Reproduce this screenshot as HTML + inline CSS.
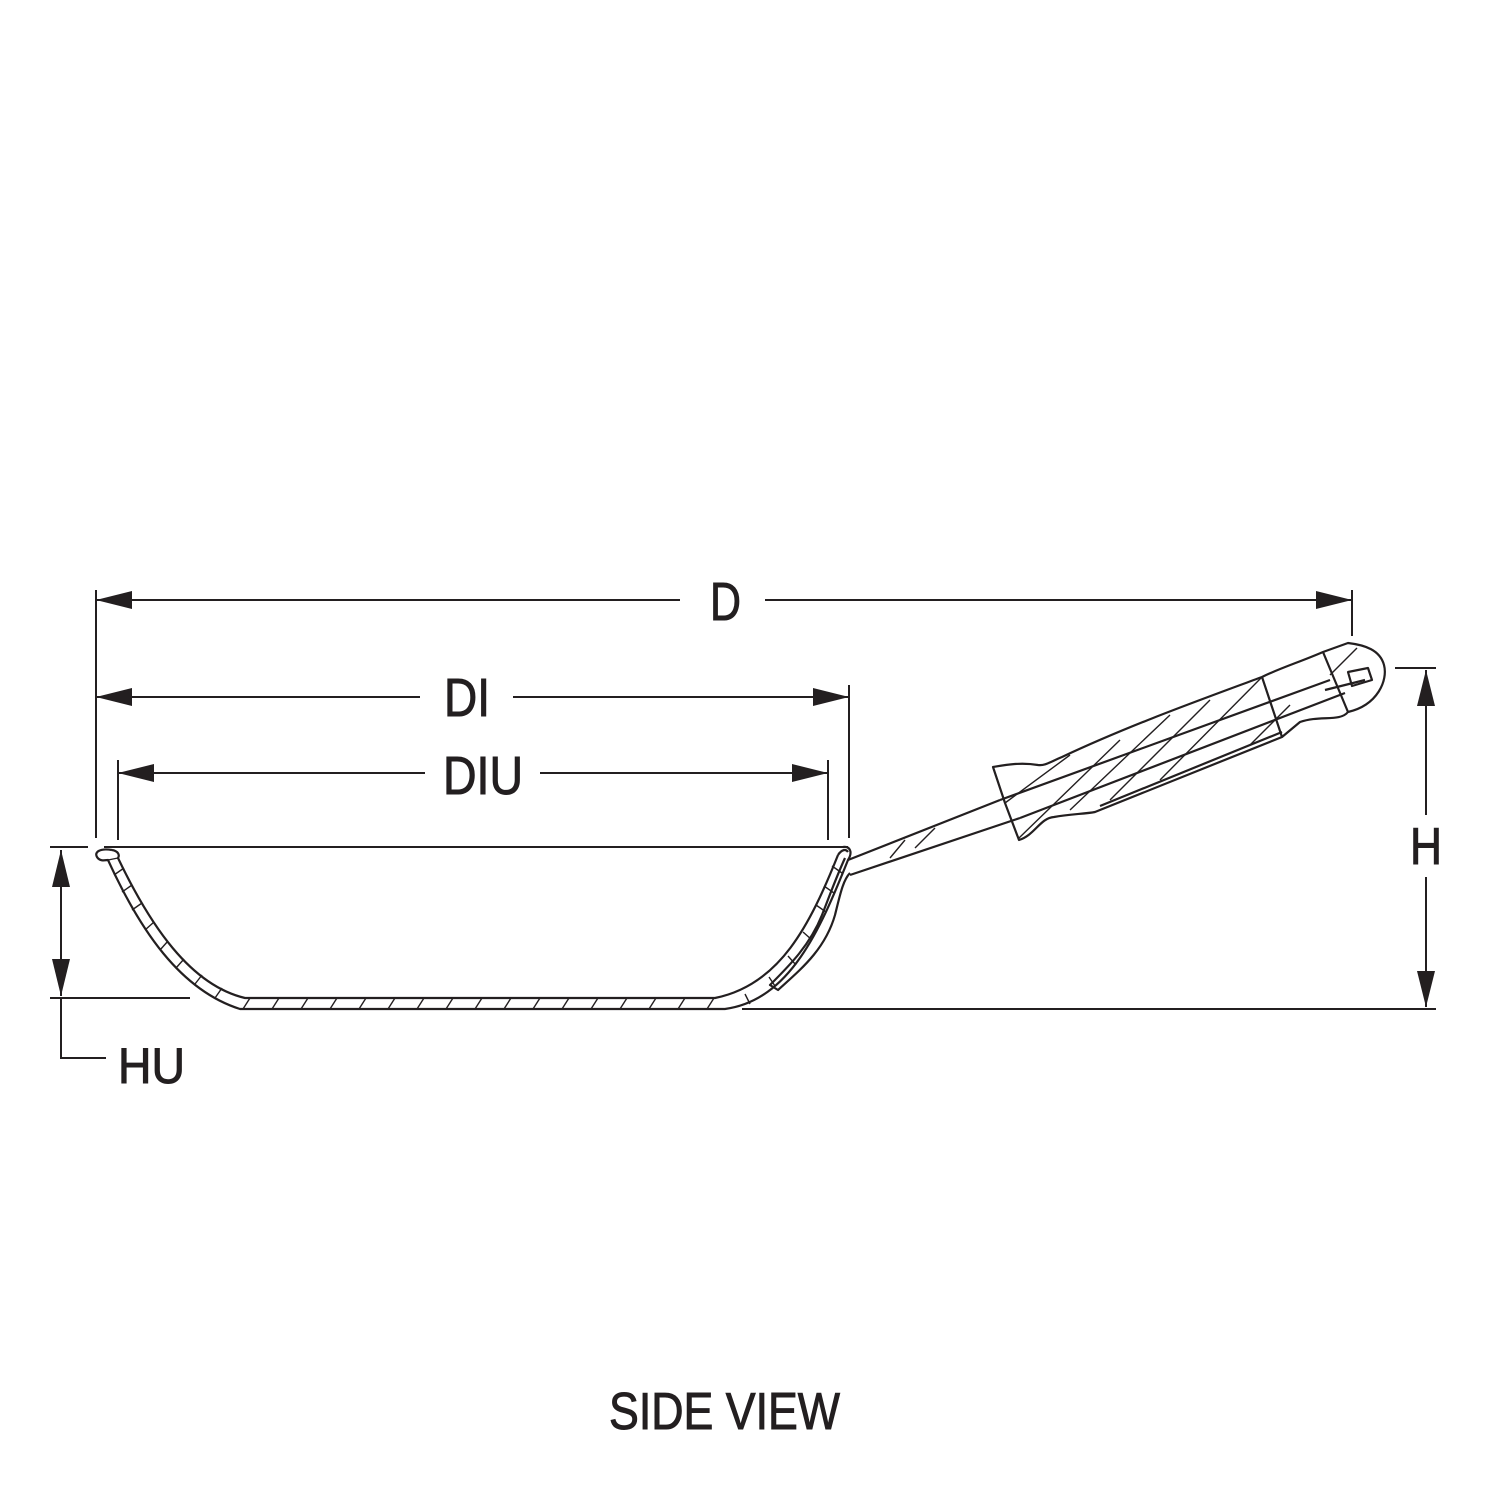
<!DOCTYPE html>
<html><head><meta charset="utf-8"><style>
html,body{margin:0;padding:0;background:#fff}
svg{display:block}
text{font-family:"Liberation Sans Narrow","Liberation Sans",sans-serif;fill:#231f20;stroke:#231f20;stroke-width:1}
</style></head><body>
<svg width="1500" height="1500" viewBox="0 0 1500 1500" xmlns="http://www.w3.org/2000/svg">
<g stroke="#231f20" fill="none" stroke-width="2">
<line x1="96" y1="590" x2="96" y2="838"/>
<line x1="1352" y1="590" x2="1352" y2="636"/>
<line x1="96" y1="600" x2="680" y2="600"/>
<line x1="765" y1="600" x2="1352" y2="600"/>
<line x1="849" y1="685" x2="849" y2="838"/>
<line x1="96" y1="697" x2="420" y2="697"/>
<line x1="513" y1="697" x2="849" y2="697"/>
<line x1="118" y1="760" x2="118" y2="840"/>
<line x1="828" y1="760" x2="828" y2="840"/>
<line x1="118" y1="773" x2="425" y2="773"/>
<line x1="540" y1="773" x2="828" y2="773"/>
<line x1="50" y1="847" x2="88" y2="847"/>
<line x1="50" y1="998" x2="190" y2="998"/>
<line x1="61" y1="850" x2="61" y2="996"/>
<polyline points="61,998 61,1058 106,1058"/>
<line x1="742" y1="1009" x2="1436" y2="1009"/>
<line x1="1395" y1="668" x2="1436" y2="668"/>
<line x1="1426" y1="670" x2="1426" y2="815"/>
<line x1="1426" y1="877" x2="1426" y2="1007"/>
<line x1="104" y1="847" x2="848" y2="847"/>
</g>
<g fill="#231f20">
<polygon points="96,600 132,591 132,609"/>
<polygon points="1352,600 1316,591 1316,609"/>
<polygon points="96,697 132,688 132,706"/>
<polygon points="849,697 813,688 813,706"/>
<polygon points="118,773 154,764 154,782"/>
<polygon points="828,773 792,764 792,782"/>
<polygon points="61,850 52,887 70,887"/>
<polygon points="61,996 52,959 70,959"/>
<polygon points="1426,670 1417,706 1435,706"/>
<polygon points="1426,1007 1417,971 1435,971"/>
</g>
<g stroke="#231f20" fill="none" stroke-width="2.2" stroke-linejoin="round">
<path d="M112,850 C100,848 94,852 97,857 C100,862 106,860 108,860 C140,930 180,990 240,1009 L725,1009 C790,1000 820,930 848,860 C853,852 850,846 843,847"/>
<path d="M112,850 C118,851 120,855 118,858 C150,925 190,985 245,998 L715,998 C780,985 810,925 838,855"/>
<path d="M838,855 C842,849 846,849 848,852"/>
<path d="M845,858 C835,880 828,900 822,915 C810,945 790,965 770,985 L778,990 C800,970 825,950 835,915 C840,895 843,880 850,873"/>
<path d="M848,860 L1000,800"/>
<path d="M850,875 L1020,818"/>
<path d="M1000,800 L1330,680"/>
<path d="M1020,818 L1345,693"/>
<path d="M993,767 L1005,803 L1019,840 C1035,835 1040,818 1054,817 C1070,814 1085,814 1095,812 L1282,737 L1300,722 C1320,715 1340,722 1348,712 C1378,705 1388,680 1384,665 C1380,650 1365,645 1348,643 L1323,652 C1300,662 1280,668 1262,677 C1200,700 1130,725 1062,757 C1050,762 1045,766 1038,765 C1020,762 1005,765 993,767 Z"/>
<path d="M1262,677 L1282,737"/>
<path d="M1323,652 L1348,712"/>
<path d="M1100,806 L1282,732"/>
<path d="M1325,690 L1365,680"/>
<path d="M1348,672 L1368,668 L1372,680 L1352,686 Z"/>
</g>
<g stroke="#231f20" stroke-width="1.4" fill="none">
<line x1="1005" y1="803" x2="1070" y2="755"/>
<line x1="1019" y1="838" x2="1120" y2="740"/>
<line x1="1070" y1="810" x2="1170" y2="715"/>
<line x1="1110" y1="800" x2="1210" y2="700"/>
<line x1="1160" y1="780" x2="1262" y2="677"/>
<line x1="1250" y1="745" x2="1290" y2="705"/>
<line x1="1330" y1="675" x2="1357" y2="648"/>
<line x1="890" y1="858" x2="905" y2="840"/>
<line x1="915" y1="848" x2="935" y2="828"/>
<line x1="108" y1="860" x2="118" y2="858"/>
<line x1="114" y1="875" x2="124" y2="868"/>
<line x1="122" y1="892" x2="132" y2="885"/>
<line x1="132" y1="910" x2="142" y2="903"/>
<line x1="145" y1="930" x2="154" y2="922"/>
<line x1="160" y1="950" x2="168" y2="941"/>
<line x1="176" y1="968" x2="184" y2="959"/>
<line x1="195" y1="984" x2="202" y2="975"/>
<line x1="215" y1="998" x2="222" y2="988"/>
<line x1="842" y1="873" x2="832" y2="866"/>
<line x1="834" y1="893" x2="824" y2="886"/>
<line x1="826" y1="912" x2="816" y2="905"/>
<line x1="812" y1="940" x2="803" y2="932"/>
<line x1="796" y1="965" x2="788" y2="956"/>
<line x1="775" y1="986" x2="769" y2="977"/>
<line x1="750" y1="1004" x2="745" y2="994"/>
</g>
<g stroke="#231f20" stroke-width="1.4">
<line x1="243" y1="1009" x2="250" y2="998"/><line x1="272" y1="1009" x2="279" y2="998"/><line x1="301" y1="1009" x2="308" y2="998"/><line x1="330" y1="1009" x2="337" y2="998"/><line x1="359" y1="1009" x2="366" y2="998"/><line x1="388" y1="1009" x2="395" y2="998"/><line x1="417" y1="1009" x2="424" y2="998"/><line x1="446" y1="1009" x2="453" y2="998"/><line x1="475" y1="1009" x2="482" y2="998"/><line x1="504" y1="1009" x2="511" y2="998"/><line x1="533" y1="1009" x2="540" y2="998"/><line x1="562" y1="1009" x2="569" y2="998"/><line x1="591" y1="1009" x2="598" y2="998"/><line x1="620" y1="1009" x2="627" y2="998"/><line x1="649" y1="1009" x2="656" y2="998"/><line x1="678" y1="1009" x2="685" y2="998"/><line x1="707" y1="1009" x2="714" y2="998"/>
</g>
<text x="710" y="620" font-size="54" textLength="31" lengthAdjust="spacingAndGlyphs">D</text>
<text x="444" y="716" font-size="54" textLength="46" lengthAdjust="spacingAndGlyphs">DI</text>
<text x="443" y="794" font-size="54" textLength="80" lengthAdjust="spacingAndGlyphs">DIU</text>
<text x="1410" y="864" font-size="52" textLength="32" lengthAdjust="spacingAndGlyphs">H</text>
<text x="118" y="1083" font-size="50" textLength="67" lengthAdjust="spacingAndGlyphs">HU</text>
<text x="609" y="1429" font-size="52" textLength="231" lengthAdjust="spacingAndGlyphs">SIDE VIEW</text>
</svg>
</body></html>
